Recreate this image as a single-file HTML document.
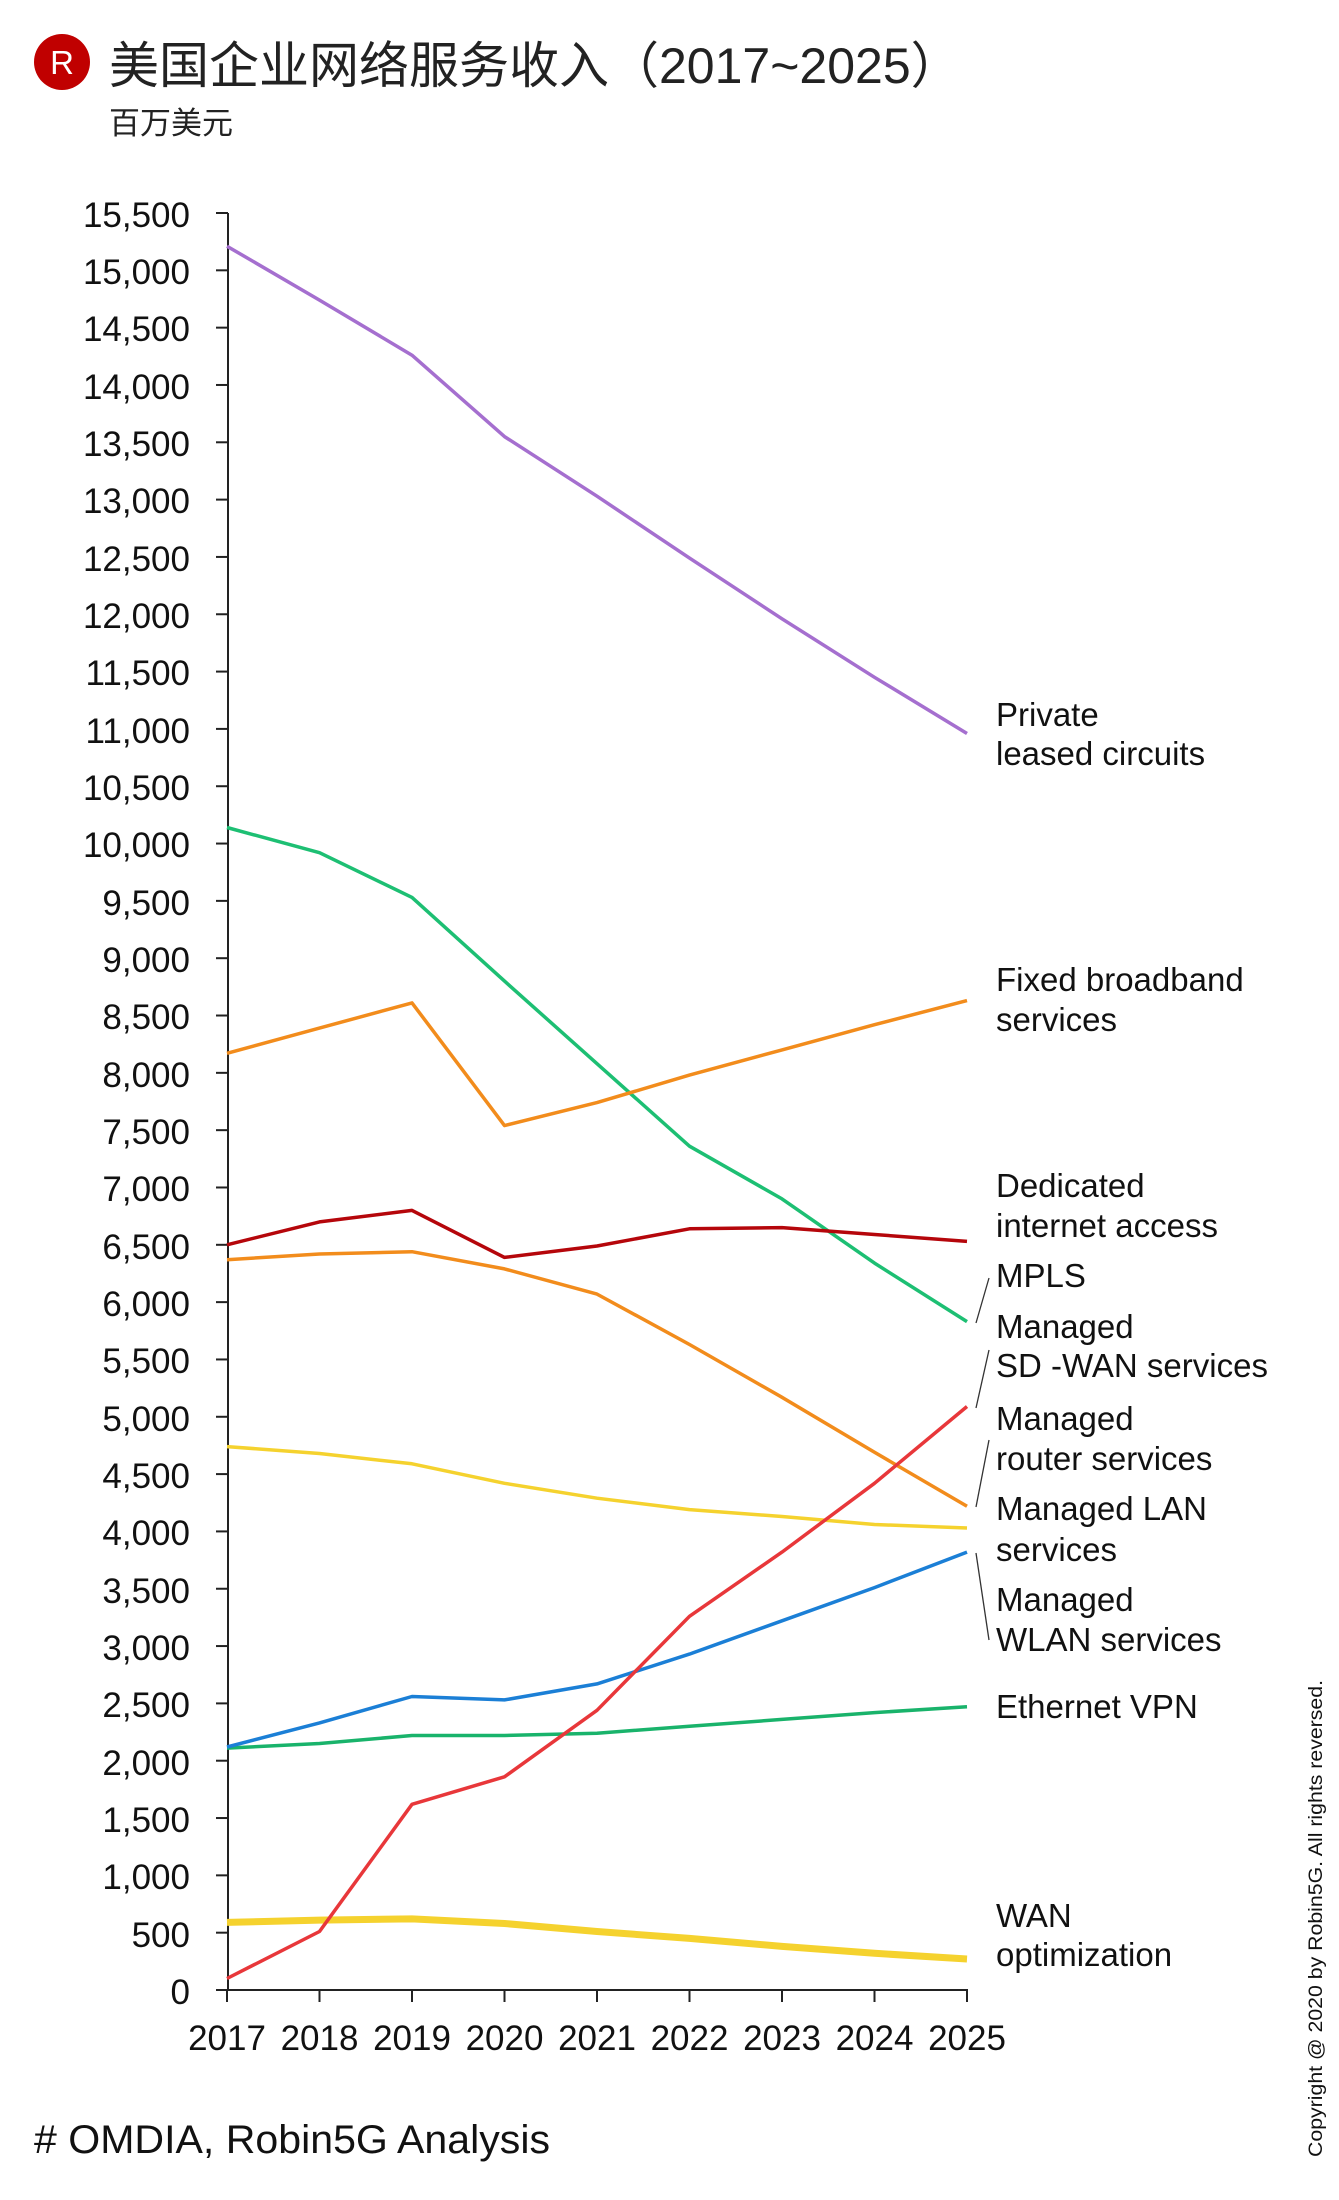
<!DOCTYPE html>
<html><head><meta charset="utf-8"><style>
html,body{margin:0;padding:0;background:#fff;}
svg{display:block;font-family:"Liberation Sans","Noto Sans CJK SC",sans-serif;}
</style></head><body>
<svg id="c" width="1339" height="2200" viewBox="0 0 1339 2200" xmlns="http://www.w3.org/2000/svg">
<circle cx="62" cy="62" r="28" fill="#c00000"/>
<text x="62" y="74" font-size="33" fill="#fff" text-anchor="middle">R</text>
<text x="109" y="83" font-size="50" fill="#222">美国企业网络服务收入（2017~2025）</text>
<text x="109" y="134" font-size="31" fill="#222">百万美元</text>
<g id="yl" font-size="35" fill="#111" text-anchor="end">
<text x="190" y="227">15,500</text><text x="190" y="284">15,000</text><text x="190" y="341">14,500</text><text x="190" y="399">14,000</text><text x="190" y="456">13,500</text><text x="190" y="513">13,000</text><text x="190" y="571">12,500</text><text x="190" y="628">12,000</text><text x="190" y="685">11,500</text><text x="190" y="743">11,000</text><text x="190" y="800">10,500</text><text x="190" y="857">10,000</text><text x="190" y="915">9,500</text><text x="190" y="972">9,000</text><text x="190" y="1029">8,500</text><text x="190" y="1087">8,000</text><text x="190" y="1144">7,500</text><text x="190" y="1201">7,000</text><text x="190" y="1259">6,500</text><text x="190" y="1316">6,000</text><text x="190" y="1373">5,500</text><text x="190" y="1431">5,000</text><text x="190" y="1488">4,500</text><text x="190" y="1545">4,000</text><text x="190" y="1603">3,500</text><text x="190" y="1660">3,000</text><text x="190" y="1717">2,500</text><text x="190" y="1775">2,000</text><text x="190" y="1832">1,500</text><text x="190" y="1889">1,000</text><text x="190" y="1947">500</text><text x="190" y="2004">0</text>
</g>
<g font-size="35" fill="#111" text-anchor="middle">
<text x="227" y="2050">2017</text><text x="319.5" y="2050">2018</text><text x="412" y="2050">2019</text><text x="504.5" y="2050">2020</text><text x="597" y="2050">2021</text><text x="689.5" y="2050">2022</text><text x="782" y="2050">2023</text><text x="874.5" y="2050">2024</text><text x="967" y="2050">2025</text>
</g>
<g font-size="33" fill="#111">
<text x="996" y="726">Private</text><text x="996" y="765">leased circuits</text>
<text x="996" y="991">Fixed broadband</text><text x="996" y="1031">services</text>
<text x="996" y="1197">Dedicated</text><text x="996" y="1237">internet access</text>
<text x="996" y="1287">MPLS</text>
<text x="996" y="1338">Managed</text><text x="996" y="1377">SD -WAN services</text>
<text x="996" y="1430">Managed</text><text x="996" y="1470">router services</text>
<text x="996" y="1520">Managed LAN</text><text x="996" y="1561">services</text>
<text x="996" y="1611">Managed</text><text x="996" y="1651">WLAN services</text>
<text x="996" y="1718">Ethernet VPN</text>
<text x="996" y="1927">WAN</text><text x="996" y="1966">optimization</text>
</g>
<g stroke="#333" stroke-width="1.3">
<line x1="976" y1="1323" x2="989" y2="1278"/>
<line x1="976" y1="1408" x2="989" y2="1350"/>
<line x1="976" y1="1507" x2="989" y2="1440"/>
<line x1="976" y1="1553" x2="989" y2="1640"/>
</g>
<text x="34" y="2153" font-size="40" fill="#111" textLength="516" lengthAdjust="spacingAndGlyphs"># OMDIA, Robin5G Analysis</text>
<text transform="translate(1322,2157) rotate(-90)" font-size="19" fill="#111" textLength="477" lengthAdjust="spacingAndGlyphs">Copyright @ 2020 by Robin5G. All rights reversed.</text>
<g id="axes"></g>
<g id="series" fill="none" stroke-linejoin="round"></g>
</svg>
<script>
var ns="http://www.w3.org/2000/svg";
function Y(v){return 1990-v*1777/15500;}
function X(i){return 227+i*92.5;}
var ax=document.getElementById('axes');
function ln(x1,y1,x2,y2){var l=document.createElementNS(ns,'line');l.setAttribute('x1',x1);l.setAttribute('y1',y1);l.setAttribute('x2',x2);l.setAttribute('y2',y2);l.setAttribute('stroke','#222');l.setAttribute('stroke-width','2');ax.appendChild(l);}
ln(228,213,228,1991);ln(227,1990,968,1990);
for(var k=0;k<=31;k++){var y=Y(k*500);ln(216,y,228,y);}
for(var i=0;i<9;i++){ln(X(i),1990,X(i),2002);}
var S=[
["#a56fcf",3.5,[15210,14740,14260,13550,13030,12490,11960,11450,10960]],
["#1dbf73",3.5,[10140,9920,9530,8800,8080,7360,6900,6340,5830]],
["#f28c1c",3.5,[8170,8390,8610,7540,7740,7980,8200,8420,8630]],
["#b5060b",3.5,[6500,6700,6800,6390,6490,6640,6650,6590,6530]],
["#f28c1c",3.5,[6370,6420,6440,6290,6070,5630,5170,4690,4220]],
["#f5d22e",3.5,[4740,4680,4590,4420,4290,4190,4130,4060,4030]],
["#19b36b",3.5,[2110,2150,2220,2220,2240,2300,2360,2420,2470]],
["#1b7fd6",3.5,[2120,2330,2560,2530,2670,2930,3220,3510,3820]],
["#f5d22e",7,[590,610,620,580,510,450,380,320,270]],
["#e8373a",3.5,[100,510,1620,1860,2440,3260,3820,4420,5090]]
];
var g=document.getElementById('series');
S.forEach(function(s){var p=document.createElementNS(ns,'polyline');p.setAttribute('points',s[2].map(function(v,i){return X(i)+','+Y(v).toFixed(1);}).join(' '));p.setAttribute('stroke',s[0]);p.setAttribute('stroke-width',s[1]);g.appendChild(p);});
</script>
</body></html>
